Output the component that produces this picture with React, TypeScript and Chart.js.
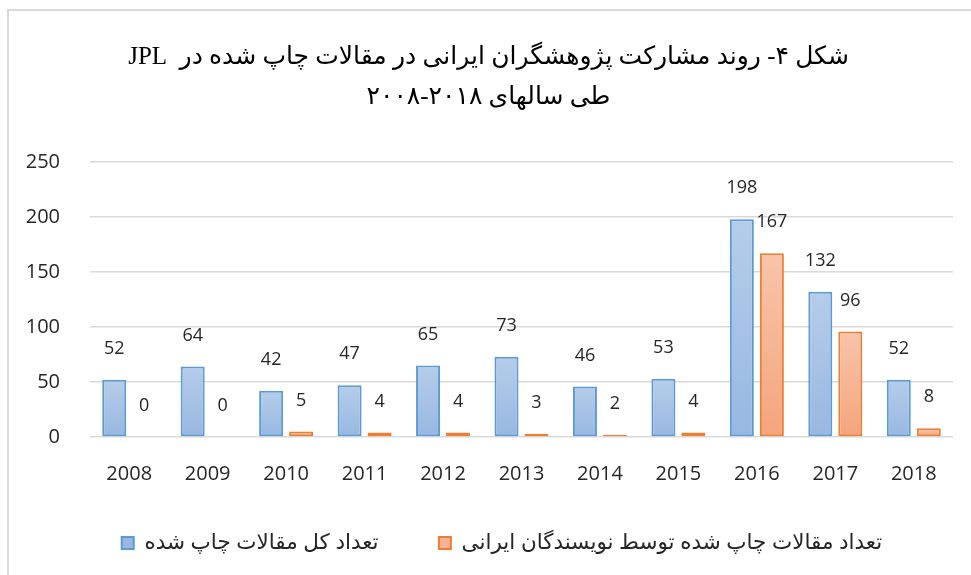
import React, { useEffect, useRef } from 'react';
import { Chart, registerables } from 'chart.js';

Chart.register(...registerables);

const years = ['2008', '2009', '2010', '2011', '2012', '2013', '2014', '2015', '2016', '2017', '2018'];
const totalPapers = [52, 64, 42, 47, 65, 73, 46, 53, 198, 132, 52];
const iranianPapers = [0, 0, 5, 4, 4, 3, 2, 4, 167, 96, 8];
const yMin = 0;
const yMax = 250;
const yStep = 50;
const titleLines = [
  'شکل ۴- روند مشارکت پژوهشگران ایرانی در مقالات چاپ شده در  JPL',
  'طی سالهای ۲۰۱۸-۲۰۰۸',
];
const seriesNames = ['تعداد کل مقالات چاپ شده', 'تعداد مقالات چاپ شده توسط نویسندگان ایرانی'];

const TEXT = '#262626';
const NUM_FONT = '"Open Sans", "DejaVu Sans", sans-serif';
const legendGap = [9, 7];

function gradientFill(top: string, bottom: string, solid: string) {
  return (c: any) => {
    const chart = c.chart;
    const { ctx, chartArea, scales } = chart;
    if (!chartArea || c.type !== 'data' || !scales.y) return solid;
    const yTop = scales.y.getPixelForValue(c.parsed.y);
    const yBot = scales.y.getPixelForValue(0);
    if (yBot - yTop < 1) return solid;
    const g = ctx.createLinearGradient(0, yTop, 0, yBot);
    g.addColorStop(0, top);
    g.addColorStop(1, bottom);
    return g;
  };
}

const frame = {
  id: 'frame',
  beforeDraw(chart: any) {
    const { ctx, width, height } = chart;
    ctx.save();
    ctx.fillStyle = '#ffffff';
    ctx.fillRect(0, 0, width, height);
    ctx.fillStyle = '#d9d9d9';
    ctx.fillRect(7, 9, 2, height - 9);
    ctx.fillRect(7, 9, width - 7, 2);
    ctx.restore();
  },
};

const dataLabels = {
  id: 'dataLabels',
  afterDatasetsDraw(chart: any) {
    const { ctx } = chart;
    ctx.save();
    ctx.font = '18px ' + NUM_FONT;
    ctx.fillStyle = TEXT;
    ctx.textAlign = 'center';
    ctx.textBaseline = 'middle';
    chart.data.datasets.forEach((ds: any, i: number) => {
      const meta = chart.getDatasetMeta(i);
      meta.data.forEach((bar: any, j: number) => {
        ctx.fillText(String(ds.data[j]), bar.x, bar.y - 31);
      });
    });
    ctx.restore();
  },
};

export default function App() {
  const ref = useRef<HTMLCanvasElement | null>(null);
  useEffect(() => {
    if (!ref.current) return;
    const chart: any = new Chart(ref.current, {
      type: 'bar',
      data: {
        labels: years,
        datasets: [
          {
            label: seriesNames[0],
            data: totalPapers,
            backgroundColor: gradientFill('#b5cdea', '#98b7e1', '#a9c4e6'),
            borderColor: '#5b9bd5',
            borderWidth: 2,
            borderSkipped: false,
            barPercentage: 0.8,
            categoryPercentage: 0.765,
          },
          {
            label: seriesNames[1],
            data: iranianPapers,
            backgroundColor: gradientFill('#f8c4aa', '#f4a57c', '#f6b293'),
            borderColor: '#ed7d31',
            borderWidth: 2,
            borderSkipped: false,
            barPercentage: 0.8,
            categoryPercentage: 0.765,
          },
        ],
      },
      options: {
        animation: false,
        responsive: true,
        maintainAspectRatio: false,
        events: [],
        layout: { padding: { left: 24, right: 18, top: 0, bottom: 11.25 } },
        plugins: {
          tooltip: { enabled: false },
          title: {
            display: true,
            text: titleLines,
            color: '#000000',
            font: { family: '"Liberation Serif", "DejaVu Sans", serif', size: 25, weight: 'normal', lineHeight: 1.6 },
            padding: { top: 37, bottom: 45 },
          },
          legend: {
            display: true,
            position: 'bottom',
            fullSize: false,
            labels: {
              color: TEXT,
              font: { family: NUM_FONT, size: 21.5 },
              boxWidth: 12,
              boxHeight: 12,
              padding: 10,
              generateLabels: (ch: any) => {
                const items = Chart.defaults.plugins.legend.labels.generateLabels(ch);
                return items.map((it: any, i: number) => ({
                  ...it,
                  text: '\u00A0'.repeat(legendGap[i] || 0) + it.text,
                }));
              },
            },
          } as any,
        },
        scales: {
          x: {
            grid: { display: false, drawTicks: false },
            border: { display: false },
            ticks: { color: TEXT, font: { family: NUM_FONT, size: 20 }, padding: 25 },
            afterFit: (s: any) => {
              s.height = 85.25;
            },
          },
          y: {
            min: yMin,
            max: yMax,
            ticks: { stepSize: yStep, color: TEXT, font: { family: NUM_FONT, size: 20 }, padding: 30 },
            grid: { color: '#d9d9d9', lineWidth: 1.5, drawTicks: false },
            border: { display: false },
            afterFit: (s: any) => {
              s.width = 66;
            },
          },
        },
      },
      plugins: [frame, dataLabels],
    });
    return () => chart.destroy();
  }, []);
  return (
    <div style={{ position: 'absolute', left: 0, top: 0, width: 971, height: 575 }}>
      <canvas ref={ref} style={{ direction: 'rtl' }} />
    </div>
  );
}
